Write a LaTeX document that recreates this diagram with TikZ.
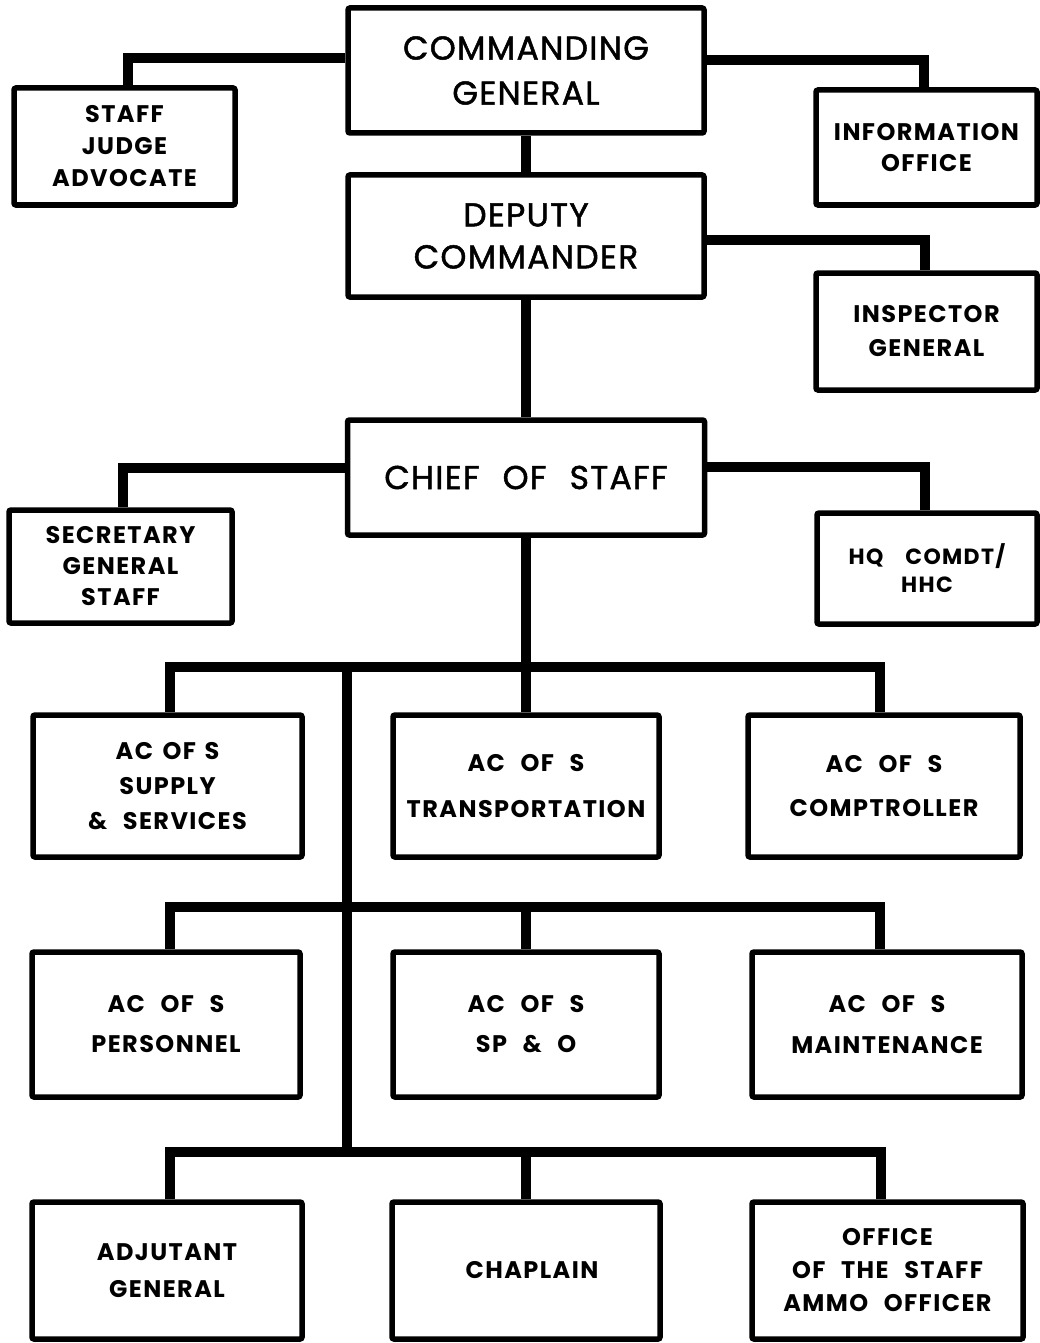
\documentclass[tikz,border=0pt]{standalone}
\usepackage{fontspec}
\setmainfont{Poppins}
\newfontfamily\lblfont[LetterSpace=6]{Poppins}
\newfontfamily\bigfont[LetterSpace=4,FakeBold=1.5]{Poppins}
\newcommand\wsp{\hspace{0.65em}}
\begin{document}
\begin{tikzpicture}[x=1pt,y=-1pt,
  box/.style={draw, line width=5.5pt, rounded corners=2pt, inner sep=0pt, align=center,
    font=\lblfont\bfseries\fontsize{24}{33}\selectfont},
  big/.style={box, font=\bigfont\fontsize{33}{45}\selectfont},
  conn/.style={line width=10pt, line join=miter}]
\useasboundingbox (0,0) rectangle (1039,1343);

% top levels
\node[big, minimum width=356pt, minimum height=125pt] (cg) at (526,70.5) {COMMANDING\\GENERAL};
\node[big, minimum width=356pt, minimum height=122pt, font=\bigfont\fontsize{33}{42}\selectfont] (dc) at (526,236) {DEPUTY\\COMMANDER};
\node[big, minimum width=357pt, minimum height=115pt] (cos) at (526,477.5) {CHIEF\hspace{0.7em}OF\hspace{0.7em}STAFF};

% side boxes
\node[box, minimum width=221pt, minimum height=117pt, font=\lblfont\bfseries\fontsize{24}{32}\selectfont] (sja) at (124.5,146.5) {STAFF\\JUDGE\\ADVOCATE};
\node[box, minimum width=221pt, minimum height=115pt, font=\lblfont\bfseries\fontsize{24}{31}\selectfont] (info) at (926.5,147.5) {INFORMATION\\OFFICE};
\node[box, minimum width=221pt, minimum height=117pt, font=\lblfont\bfseries\fontsize{24}{34}\selectfont] (ig) at (926.5,331.5) {INSPECTOR\\GENERAL};
\node[box, minimum width=223pt, minimum height=113pt, font=\lblfont\bfseries\fontsize{24}{31}\selectfont] (sgs) at (120.5,566.5) {SECRETARY\\GENERAL\\STAFF};
\node[box, minimum width=220pt, minimum height=111pt, font=\lblfont\bfseries\fontsize{22}{28}\selectfont] (hq) at (927,568.5) {HQ\hspace{1em}COMDT/\\HHC};

% row 1
\node[box, minimum width=269pt, minimum height=142pt, font=\lblfont\bfseries\fontsize{24}{35}\selectfont] (sup) at (167.5,786) {AC\hspace{0.4em}OF\hspace{0.35em}S\\SUPPLY\\\&\wsp SERVICES};
\node[box, minimum width=266pt, minimum height=142pt, font=\lblfont\bfseries\fontsize{24}{46}\selectfont] (tra) at (526,786) {AC\wsp OF\wsp S\\TRANSPORTATION};
\node[box, minimum width=272pt, minimum height=142pt, font=\lblfont\bfseries\fontsize{24}{44}\selectfont] (comp) at (884,786) {AC\wsp OF\wsp S\\COMPTROLLER};

% row 2
\node[box, minimum width=268pt, minimum height=145pt, font=\lblfont\bfseries\fontsize{24}{40}\selectfont] (per) at (166,1024.5) {AC\wsp OF\wsp S\\PERSONNEL};
\node[box, minimum width=266pt, minimum height=145pt, font=\lblfont\bfseries\fontsize{24}{40}\selectfont] (spo) at (526,1024.5) {AC\wsp OF\wsp S\\SP\wsp\&\wsp O};
\node[box, minimum width=270pt, minimum height=145pt, font=\lblfont\bfseries\fontsize{24}{41}\selectfont] (mai) at (887,1024.5) {AC\wsp OF\wsp S\\MAINTENANCE};

% row 3
\node[box, minimum width=270pt, minimum height=137pt, font=\lblfont\bfseries\fontsize{24}{37}\selectfont] (adj) at (167,1270.5) {ADJUTANT\\GENERAL};
\node[box, minimum width=268pt, minimum height=137pt] (chap) at (526,1270.5) {\hspace{12pt}CHAPLAIN};
\node[box, minimum width=271pt, minimum height=137pt, font=\lblfont\bfseries\fontsize{24}{33}\selectfont] (ammo) at (887.5,1270.5) {OFFICE\\OF\wsp THE\wsp STAFF\\AMMO\wsp OFFICER};

% connectors top
\draw[conn] ([yshift=12.5pt]cg.west) -| ([xshift=3.5pt]sja.north);
\draw[conn] ([yshift=10pt]cg.east) -| ([xshift=-2.5pt]info.north);
\draw[conn] (cg.south) -- (dc.north);
\draw[conn] ([yshift=-4pt]dc.east) -| ([xshift=-1.5pt]ig.north);
\draw[conn] (dc.south) -- (cos.north);
\draw[conn] ([yshift=9.5pt]cos.west) -| ([xshift=2.5pt]sgs.north);
\draw[conn] ([yshift=10.5pt]cos.east) -| ([xshift=-2pt]hq.north);

% branch coordinates
\coordinate (d1L) at (170,667);
\coordinate (d1R) at (880,667);
\coordinate (t2) at (347,667);
\coordinate (d2L) at (170,907);
\coordinate (d2R) at (880,907);
\coordinate (d3L) at (170,1152);
\coordinate (d3R) at (881,1152);
\coordinate (t3) at (347,1152);

% row 1 bar
\draw[conn] (cos.south) -- (tra.north);
\draw[conn] (sup.north -| d1L) -- (d1L) -- (d1R) -- (comp.north -| d1R);
% trunk to rows 2 and 3
\draw[conn] (t2) -- (t3);
% row 2 bar
\draw[conn] (per.north -| d2L) -- (d2L) -- (d2R) -- (mai.north -| d2R);
\draw[conn] (spo.north) -- (spo.north |- d2L);
% row 3 bar
\draw[conn] (adj.north -| d3L) -- (d3L) -- (d3R) -- (ammo.north -| d3R);
\draw[conn] (chap.north) -- (chap.north |- d3L);
\end{tikzpicture}
\end{document}
